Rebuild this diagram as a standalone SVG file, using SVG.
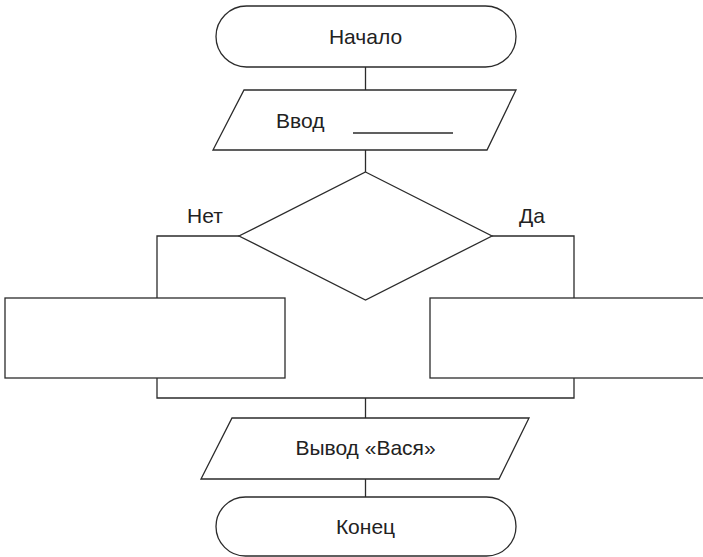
<svg xmlns="http://www.w3.org/2000/svg" width="703" height="557" viewBox="0 0 703 557">
  <style>
    .shape { fill: #ffffff; stroke: #2b2b2b; stroke-width: 1.3; }
    .wire { fill: none; stroke: #2b2b2b; stroke-width: 1.3; }
    text { font-family: "Liberation Sans", Arial, sans-serif; font-size: 21px; fill: #222222; }
  </style>
  <rect width="703" height="557" fill="#ffffff"/>

  <g id="connectors">
    <line class="wire" x1="365.5" y1="67" x2="365.5" y2="90"/>
    <line class="wire" x1="365.5" y1="150" x2="365.5" y2="172"/>
    <polyline class="wire" points="239,236 157,236 157,298"/>
    <polyline class="wire" points="492,236 574,236 574,298"/>
    <polyline class="wire" points="157,378 157,398 574,398 574,378"/>
    <line class="wire" x1="365.5" y1="398" x2="365.5" y2="418"/>
    <line class="wire" x1="365.5" y1="479" x2="365.5" y2="497"/>
  </g>

  <g id="start">
    <rect class="shape" x="216" y="6" width="300" height="61" rx="30.5" ry="30.5"/>
    <text x="365.5" y="44" text-anchor="middle">Начало</text>
  </g>

  <g id="input">
    <polygon class="shape" points="244,90 516,90 487,150 213,150"/>
    <text x="276" y="128">Ввод</text>
    <line class="wire" x1="353" y1="133" x2="453" y2="133"/>
  </g>

  <g id="decision">
    <polygon class="shape" points="365.5,172 492,236 365.5,300 239,236"/>
  </g>

  <g id="label-no">
    <text x="187" y="223">Нет</text>
  </g>
  <g id="label-yes">
    <text x="519" y="223">Да</text>
  </g>

  <g id="branch-no">
    <rect class="shape" x="5" y="298" width="280" height="80"/>
  </g>

  <g id="branch-yes">
    <rect class="shape" x="430" y="298" width="280" height="80"/>
  </g>

  <g id="output">
    <polygon class="shape" points="232,418 529,418 499,479 201,479"/>
    <text x="365.5" y="455" text-anchor="middle">Вывод «Вася»</text>
  </g>

  <g id="end">
    <rect class="shape" x="216" y="497" width="300" height="59" rx="29.5" ry="29.5"/>
    <text x="365.5" y="534" text-anchor="middle">Конец</text>
  </g>
</svg>
